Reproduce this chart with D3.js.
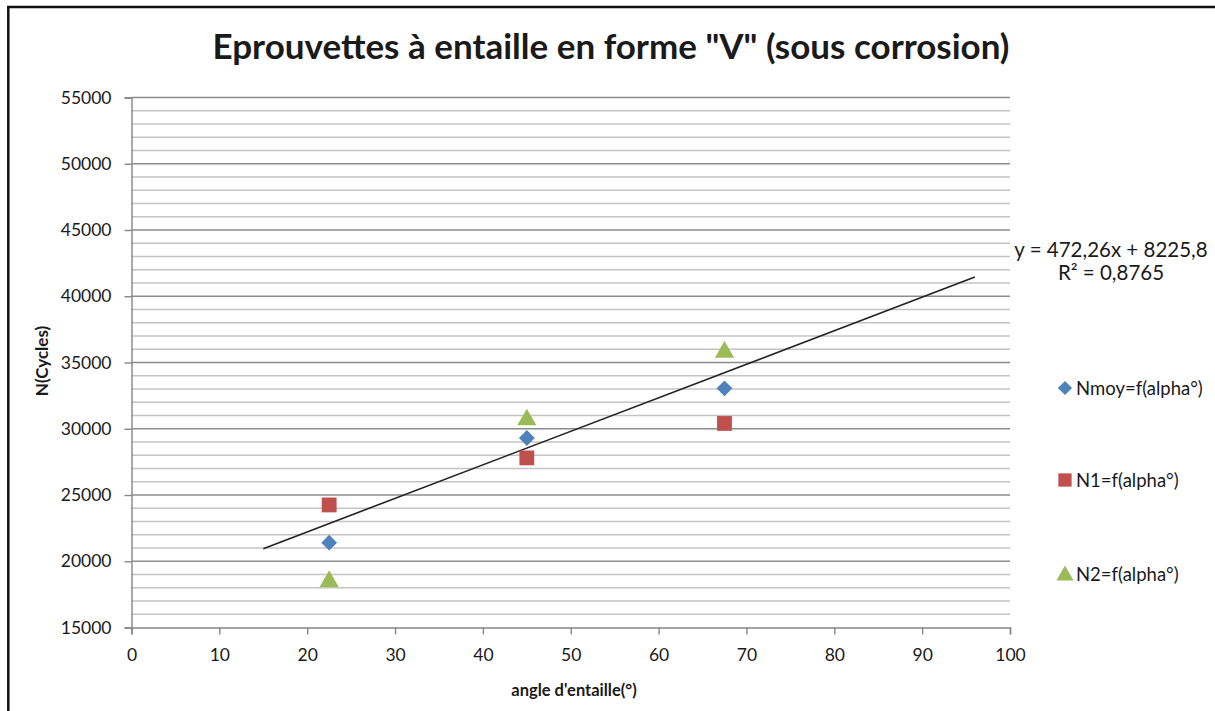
<!DOCTYPE html>
<html>
<head>
<meta charset="utf-8">
<script src="https://cdn.jsdelivr.net/npm/d3@7"></script>
<style>
  html, body { margin: 0; padding: 0; background: #fff; }
  svg { display: block; }
  text { font-family: Lato, "Open Sans", sans-serif; fill: #1a1a1a; }
</style>
</head>
<body>
<svg id="chart" width="1215" height="711"></svg>
<script>
// Notch angle (degrees) for each specimen group
const angles = [22.5, 45, 67.5];
// Cycles to failure
const nMoy = [21400, 29300, 33050];
const n1 = [24250, 27800, 30400];
const n2 = [18600, 30800, 35900];
// Trend line extent (angle) and its values at the two ends
const trendX = [15, 96];
const trendY = [20950, 41450];
// Axis ticks
const xTicks = [0, 10, 20, 30, 40, 50, 60, 70, 80, 90, 100];
const yTicks = [15000, 20000, 25000, 30000, 35000, 40000, 45000, 50000, 55000];
const yMinorTicks = d3.range(15000, 55001, 1000);
// Texts
const titleText = 'Eprouvettes à entaille en forme "V" (sous corrosion)';
const xTitle = "angle d'entaille(°)";
const yTitle = "N(Cycles)";
const equation = "y = 472,26x + 8225,8";
const rSquared = "R² = 0,8765";
const seriesNames = ["Nmoy=f(alpha°)", "N1=f(alpha°)", "N2=f(alpha°)"];
const seriesColors = ["#4F81BD", "#C0504D", "#9BBB59"];

const svg = d3.select("#chart");

// Outer frame (extends beyond the visible right and bottom edges)
svg.append("rect")
  .attr("x", 8.3).attr("y", 7)
  .attr("width", 1400).attr("height", 900)
  .attr("fill", "none").attr("stroke", "#111").attr("stroke-width", 2.5);

const x = d3.scaleLinear().domain([0, 100]).range([131.5, 1010]);
const y = d3.scaleLinear().domain([15000, 55000]).range([627.5, 97.5]);

// Minor horizontal gridlines
svg.append("g").selectAll("line")
  .data(yMinorTicks.filter(v => v % 5000 !== 0))
  .join("line")
  .attr("x1", x(0)).attr("x2", x(100))
  .attr("y1", d => y(d)).attr("y2", d => y(d))
  .attr("stroke", "#c4c4c4").attr("stroke-width", 1.4);

// Major horizontal gridlines
svg.append("g").selectAll("line")
  .data(yTicks.filter(v => v !== 15000))
  .join("line")
  .attr("x1", x(0)).attr("x2", x(100))
  .attr("y1", d => y(d)).attr("y2", d => y(d))
  .attr("stroke", "#8c8c8c").attr("stroke-width", 1.4);

// Y axis
const yAxis = svg.append("g")
  .attr("transform", `translate(${x(0)},0)`)
  .call(d3.axisLeft(y).tickValues(yTicks).tickFormat(d3.format("d")).tickSize(7).tickPadding(13));
// X axis
const xAxis = svg.append("g")
  .attr("transform", `translate(0,${y(15000)})`)
  .call(d3.axisBottom(x).tickValues(xTicks).tickFormat(d3.format("d")).tickSize(7).tickPadding(14));

[yAxis, xAxis].forEach(a => {
  a.select(".domain").attr("stroke", "#868686").attr("stroke-width", 1.4);
  a.selectAll(".tick line").attr("stroke", "#868686").attr("stroke-width", 1.4);
  a.selectAll(".tick text")
    .attr("font-family", "Lato, sans-serif")
    .attr("font-size", 17.5)
    .attr("fill", "#1a1a1a");
});

// Trend line
svg.append("path")
  .datum(trendX.map((v, i) => [v, trendY[i]]))
  .attr("d", d3.line().x(d => x(d[0])).y(d => y(d[1])))
  .attr("fill", "none").attr("stroke", "#222").attr("stroke-width", 1.6);

// Markers: diamond is a square turned by 45 degrees
const symbols = [d3.symbolSquare, d3.symbolSquare, d3.symbolTriangle];
const rotations = [45, 0, 0];
const sizes = [125, 220, 160];
const series = [nMoy, n1, n2];

function markerPath(i, scale) {
  return d3.symbol().type(symbols[i]).size(sizes[i] * (scale || 1))();
}
// Triangle glyph is shifted so its bounding box is centred on the point
function markerOffset(i, scale) {
  if (i !== 2) return 0;
  const s = Math.sqrt(sizes[i] * (scale || 1) / (3 * Math.sqrt(3) / 4));
  return (s / Math.sqrt(3) - s / (2 * Math.sqrt(3))) / 2;
}

series.forEach((vals, i) => {
  svg.append("g").selectAll("path")
    .data(vals.map((v, j) => [angles[j], v]))
    .join("path")
    .attr("d", markerPath(i))
    .attr("transform", d => `translate(${x(d[0])},${y(d[1]) + markerOffset(i)}) rotate(${rotations[i]})`)
    .attr("fill", seriesColors[i]);
});

// Title
svg.append("text")
  .attr("x", 611).attr("y", 59)
  .attr("text-anchor", "middle")
  .attr("font-size", 35).attr("font-weight", "bold")
  .attr("fill", "#000")
  .text(titleText);

// Axis titles
svg.append("text")
  .attr("x", 574).attr("y", 696)
  .attr("text-anchor", "middle")
  .attr("font-size", 16.5).attr("font-weight", "bold")
  .text(xTitle);

svg.append("text")
  .attr("transform", "translate(48,361) rotate(-90)")
  .attr("text-anchor", "middle")
  .attr("font-size", 17).attr("font-weight", "bold")
  .text(yTitle);

// Regression equation
svg.append("text")
  .attr("x", 1111).attr("y", 257)
  .attr("text-anchor", "middle")
  .attr("font-family", "'Liberation Sans', Arial, sans-serif")
  .attr("font-size", 20.5)
  .text(equation);
svg.append("text")
  .attr("x", 1111).attr("y", 280)
  .attr("text-anchor", "middle")
  .attr("font-family", "'Liberation Sans', Arial, sans-serif")
  .attr("font-size", 20.5)
  .text(rSquared);

// Legend
const legendY = [388, 480, 574];
const legend = svg.append("g").selectAll("g")
  .data(seriesNames)
  .join("g")
  .attr("transform", (d, i) => `translate(1065,${legendY[i]})`);
legend.append("path")
  .attr("d", (d, i) => markerPath(i, 0.8))
  .attr("transform", (d, i) => `translate(0,${markerOffset(i, 0.8)}) rotate(${rotations[i]})`)
  .attr("fill", (d, i) => seriesColors[i]);
legend.append("text")
  .attr("x", 11).attr("y", 6.5)
  .attr("font-size", 18.5)
  .text(d => d);
</script>
</body>
</html>
